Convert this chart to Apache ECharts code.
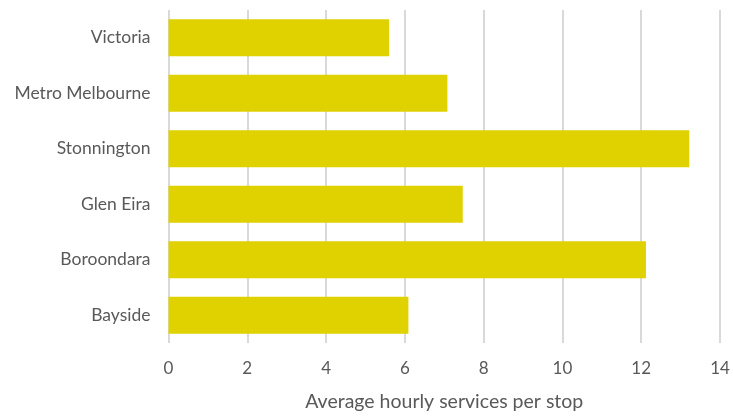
<!DOCTYPE html>
<html>
<head>
<meta charset="utf-8">
<script src="https://cdn.jsdelivr.net/npm/echarts@6/dist/echarts.min.js"></script>
<style>
  html, body { margin: 0; padding: 0; background: #ffffff; }
  #chart { width: 733px; height: 417px; }
</style>
</head>
<body>
<div id="chart"></div>
<script>
// Areas, listed bottom to top as drawn on the category axis
const areas = ['Bayside', 'Boroondara', 'Glen Eira', 'Stonnington', 'Metro Melbourne', 'Victoria'];
// Average hourly services per stop for each area
const servicesPerStop = [6.09, 12.12, 7.47, 13.22, 7.08, 5.60];
const xTicks = { min: 0, max: 14, interval: 2 };
const xTitle = 'Average hourly services per stop';

const chart = echarts.init(document.getElementById('chart'), null, { renderer: 'canvas' });
const fontFamily = 'Lato, "Open Sans", sans-serif';

chart.setOption({
  animation: false,
  backgroundColor: '#ffffff',
  grid: { left: 168.5, right: 13, top: 10, bottom: 69, containLabel: false },
  xAxis: {
    type: 'value',
    min: xTicks.min,
    max: xTicks.max,
    interval: xTicks.interval,
    name: xTitle,
    nameLocation: 'middle',
    nameGap: 49,
    nameTextStyle: { color: '#595959', fontSize: 19.5, fontFamily },
    axisLine: { show: false },
    axisTick: { show: false },
    axisLabel: { color: '#595959', fontSize: 17, fontFamily, margin: 17 },
    splitLine: { show: true, lineStyle: { color: '#d9d9d9', width: 2 } }
  },
  yAxis: {
    type: 'category',
    data: areas,
    axisLine: { show: false },
    axisTick: { show: false },
    axisLabel: { color: '#595959', fontSize: 17.5, fontFamily, margin: 18, padding: [3, 0, 0, 0] },
    splitLine: { show: false }
  },
  series: [{
    type: 'bar',
    data: servicesPerStop,
    barCategoryGap: '33%',
    itemStyle: { color: '#e0d100' },
    silent: true
  }]
});
</script>
</body>
</html>
